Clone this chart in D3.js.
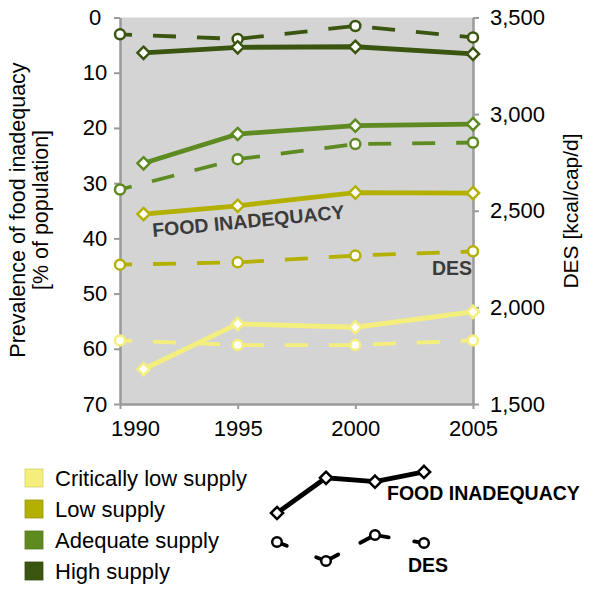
<!DOCTYPE html>
<html><head><meta charset="utf-8">
<script src="https://cdn.jsdelivr.net/npm/d3@7"></script>
<style>body{margin:0;background:#fff;font-family:"Liberation Sans",Arial,sans-serif;}</style>
</head><body><svg id="c" width="594" height="592" font-family="Liberation Sans, Arial, sans-serif"></svg>
<script>
const categories = ["Critically low supply","Low supply","Adequate supply","High supply"];
const colors = ["#f4ef7c","#b3b000","#5e8a22","#3a5510"];
const fiYears = [1991,1995,2000,2005];
const desYears = [1990,1995,2000,2005];
const fiCritical = [63.7,55.5,56.1,53.3];
const fiLow = [35.6,34.1,31.7,31.8];
const fiAdequate = [26.4,21.1,19.6,19.3];
const fiHigh = [6.4,5.4,5.3,6.6];
const desCritical = [1829,1805,1805,1829];
const desLow = [2221,2233,2268,2290];
const desAdequate = [2610,2767,2845,2853];
const desHigh = [3413,3389,3456,3397];
const leftTicks = [0,10,20,30,40,50,60,70];
const rightTicks = [1500,2000,2500,3000,3500];
const xTicks = [1990,1995,2000,2005];
// legend sample glyph values (abstract units)
const sampleFI = [4.6,1.0,1.4,0.4];
const sampleDES = [0.27,1.0,0.0,0.31];

const fiSeries = [fiCritical,fiLow,fiAdequate,fiHigh];
const desSeries = [desCritical,desLow,desAdequate,desHigh];

const svg = d3.select("#c");
const L=120,R=473,T=17.5,B=404;
const x = d3.scaleLinear().domain([1990,2005]).range([L,R]);
const yL = d3.scaleLinear().domain([0,70]).range([T,B]);
const yR = d3.scaleLinear().domain([1500,3500]).range([B,T]);

svg.append("rect").attr("x",L).attr("y",T).attr("width",R-L).attr("height",B-T).attr("fill","#d4d4d4");

const axStyle = g=>{g.selectAll(".domain").attr("stroke","#9a9a9a").attr("stroke-width",2.5);
  g.selectAll(".tick line").attr("stroke","#9a9a9a").attr("stroke-width",2);
  g.selectAll("text").attr("font-size",22).attr("fill","#000").attr("font-family","Liberation Sans, Arial, sans-serif");};
svg.append("g").attr("transform",`translate(${L},0)`).call(d3.axisLeft(yL).tickValues(leftTicks).tickSize(6).tickPadding(5).tickSizeOuter(0)).call(axStyle)
  .selectAll(".tick text").attr("text-anchor","middle").attr("x",-25);
svg.append("g").attr("transform",`translate(${R},0)`).call(d3.axisRight(yR).tickValues(rightTicks).tickFormat(d3.format(",")).tickSize(6).tickPadding(11).tickSizeOuter(0)).call(axStyle);
const xg = svg.append("g").attr("transform",`translate(0,${B})`).call(d3.axisBottom(x).tickValues(xTicks).tickFormat(d3.format("d")).tickSize(5).tickPadding(11).tickSizeOuter(0)).call(axStyle);
xg.selectAll(".tick text").filter((d,i)=>i===0).attr("dx",15);

// DES dashed lines
desSeries.forEach((s,i)=>{
  const pts = s.map((v,j)=>[x(desYears[j]),yR(v)]);
  svg.append("path").attr("d",d3.line()(pts)).attr("fill","none").attr("stroke",colors[i])
    .attr("stroke-width",3.8).attr("stroke-dasharray","23,21").attr("stroke-dashoffset",11);
  svg.selectAll(null).data(pts).enter().append("circle").attr("cx",d=>d[0]).attr("cy",d=>d[1]).attr("r",5)
    .attr("fill","#fff").attr("stroke",colors[i]).attr("stroke-width",2.5);
});
// FI solid lines
const diamond = d3.symbol().type(d3.symbolDiamond2).size(95);
fiSeries.forEach((s,i)=>{
  const pts = s.map((v,j)=>[x(fiYears[j]),yL(v)]);
  svg.append("path").attr("d",d3.line()(pts)).attr("fill","none").attr("stroke",colors[i]).attr("stroke-width",4.8);
  svg.selectAll(null).data(pts).enter().append("path").attr("d",diamond)
    .attr("transform",d=>`translate(${d[0]},${d[1]})`)
    .attr("fill","#fff").attr("stroke",colors[i]).attr("stroke-width",2.5);
});

svg.append("text").attr("transform","translate(153,237) rotate(-5.5)").attr("font-size",19.5).attr("font-weight","bold")
  .attr("fill","#3b3b3b").text("FOOD INADEQUACY");
svg.append("text").attr("x",472).attr("y",275).attr("text-anchor","end").attr("font-size",19.5).attr("font-weight","bold")
  .attr("fill","#3b3b3b").text("DES");

// axis titles
const lt = svg.append("text").attr("transform","translate(25,210) rotate(-90)").attr("text-anchor","middle")
  .attr("font-size",21.5).attr("fill","#000");
lt.append("tspan").attr("x",0).attr("dy",0).text("Prevalence of food inadequacy");
lt.append("tspan").attr("x",0).attr("dy",22.5).text("[% of population]");
svg.append("text").attr("transform","translate(578,211) rotate(-90)").attr("text-anchor","middle")
  .attr("font-size",21).attr("fill","#000").text("DES [kcal/cap/d]");

// category legend
const lg = svg.append("g");
categories.forEach((c,i)=>{
  const yy = 478 + i*31;
  lg.append("rect").attr("x",25).attr("y",yy-9).attr("width",18).attr("height",18).attr("fill",colors[i])
    .attr("stroke",d3.color(colors[i]).darker(0.4)).attr("stroke-width",0.8);
  lg.append("text").attr("x",55).attr("y",yy+8).attr("font-size",22).attr("fill","#000").text(c);
});

// line-style legend
const sx = d3.scaleLinear().domain([0,3]).range([277,424]);
const sy = d3.scaleLinear().domain([0,4.6]).range([468,513]);
const fiPts = sampleFI.map((v,j)=>[sx(j),sy(v)]);
svg.append("path").attr("d",d3.line()(fiPts)).attr("fill","none").attr("stroke","#000").attr("stroke-width",4.8);
svg.selectAll(null).data(fiPts).enter().append("path").attr("d",diamond)
  .attr("transform",d=>`translate(${d[0]},${d[1]})`).attr("fill","#fff").attr("stroke","#000").attr("stroke-width",2.5);
svg.append("text").attr("x",387).attr("y",500).attr("font-size",19.5).attr("font-weight","bold").text("FOOD INADEQUACY");

const sy2 = d3.scaleLinear().domain([0,1]).range([535,561]);
const dPts = sampleDES.map((v,j)=>[sx(j),sy2(v)]);
const tl = [[0,1,0.2],[1,0,0.2],[1,2,0.25],[2,1,0.3],[2,3,0.28],[3,2,0.2]];
tl.forEach(([a,b,f])=>{
  const p=dPts[a],q=dPts[b];
  svg.append("line").attr("x1",p[0]).attr("y1",p[1]).attr("x2",p[0]+(q[0]-p[0])*f).attr("y2",p[1]+(q[1]-p[1])*f)
    .attr("stroke","#000").attr("stroke-width",3.8).attr("stroke-linecap","round");
});
svg.selectAll(null).data(dPts).enter().append("circle").attr("cx",d=>d[0]).attr("cy",d=>d[1]).attr("r",4.8)
  .attr("fill","#fff").attr("stroke","#000").attr("stroke-width",2.5);
svg.append("text").attr("x",408).attr("y",572).attr("font-size",19.5).attr("font-weight","bold").text("DES");
</script></body></html>
